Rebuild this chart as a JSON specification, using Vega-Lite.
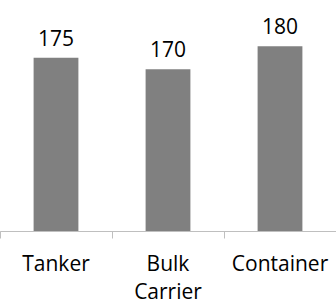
{
  "$schema": "https://vega.github.io/schema/vega-lite/v6.json",
  "width": 336,
  "height": 231,
  "padding": {"top": 0, "left": 0, "right": 0, "bottom": 75},
  "autosize": "none",
  "background": "white",
  "config": {"view": {"stroke": null}},
  "data": {"values": [
    {"type": "Tanker", "value": 175},
    {"type": "Bulk Carrier", "value": 170},
    {"type": "Container", "value": 180}
  ]},
  "encoding": {
    "y": {
      "field": "value", "type": "quantitative",
      "scale": {"domain": [100, 200], "nice": false, "zero": false, "clamp": true},
      "axis": null
    }
  },
  "layer": [
    {
      "mark": {"type": "bar", "color": "#808080"},
      "encoding": {
        "x": {
          "field": "type", "type": "nominal", "sort": null,
          "scale": {"paddingInner": 0.6, "paddingOuter": 0.3},
          "axis": {
            "title": null, "orient": "bottom", "labelAngle": 0, "domainColor": "#bfbfbf",
            "ticks": false, "labelPadding": 22,
            "labelFont": "Open Sans", "labelFontSize": 21, "labelColor": "#000000",
            "labelLineHeight": 28, "labelExpr": "split(datum.label, ' ')"
          }
        }
      }
    },
    {
      "mark": {"type": "text", "font": "Open Sans", "fontSize": 21, "color": "#000000", "baseline": "alphabetic", "dy": -12},
      "encoding": {
        "x": {
          "field": "type", "type": "nominal", "sort": null,
          "axis": {
            "title": null, "orient": "bottom", "labels": false, "domainColor": "#bfbfbf",
            "tickColor": "#bfbfbf", "tickOffset": -56, "tickSize": 7
          }
        },
        "text": {"field": "value", "type": "quantitative"}
      }
    }
  ],
  "resolve": {"axis": {"x": "independent"}}
}
